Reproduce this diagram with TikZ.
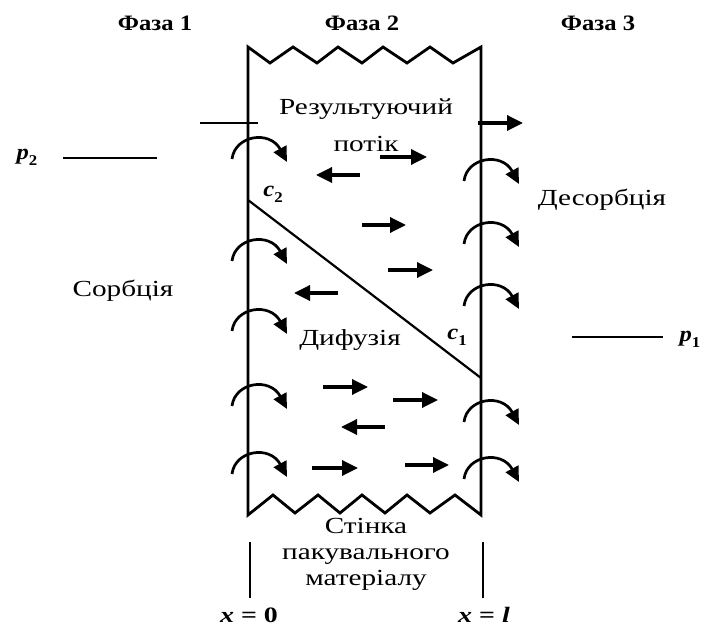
\documentclass[tikz,border=0pt]{standalone}
\usepackage{fontspec}
\setmainfont{Liberation Serif}
\usetikzlibrary{arrows.meta}
\tikzset{
  wall/.style={line width=2.8pt, line join=miter},
  thin/.style={line width=2.2pt},
  flow/.style={line width=3.4pt, -{Triangle[length=16pt,width=15pt]}},
  curl/.style={line width=2.7pt, -{Triangle[length=15pt,width=14pt]}},
  lbl/.style={font=\fontsize{23}{26}\selectfont, inner sep=0pt, anchor=base},
  phase/.style={font=\fontsize{22}{24}\selectfont\bfseries, inner sep=0pt, anchor=base},
  sym/.style={font=\fontsize{22}{24}\selectfont\bfseries, inner sep=0pt, anchor=base}
}
\newcommand\mywide[1]{\scalebox{1.27}[1]{#1}}
\newcommand\myphw[1]{\scalebox{1.12}[1]{#1}}
\newcommand\curlat[2]{\draw[curl] (#1-18,#2+19) .. controls (#1-15,#2-5) and (#1+20,#2-10) .. (#1+37,#2+22);}
\newcommand\mysubsc[1]{\raisebox{-0.25em}{\fontsize{15}{17}\selectfont #1}}
\begin{document}
\begin{tikzpicture}[x=1pt,y=-1pt]
\useasboundingbox (0,0) rectangle (710,628);
% walls and zigzags
\draw[wall] (248,515) -- (248,47) -- (270,63) -- (293,47) -- (317,63) -- (338,47) -- (362,63) -- (383,47) -- (407,63) -- (430,47) -- (453,63) -- (481,47) -- (481,515)
  -- (455,495) -- (430,513) -- (407,495) -- (385,513) -- (362,495) -- (340,513) -- (318,495) -- (295,513) -- (273,495) -- cycle;
% lower ticks
\coordinate (t0a) at (250,542); \coordinate (t0b) at (250,598);
\coordinate (tla) at (483,542); \coordinate (tlb) at (483,598);
\draw[wall] (t0a) -- (t0b);
\draw[wall] (tla) -- (tlb);
% concentration line
\coordinate (cA) at (248,200); \coordinate (cB) at (481,378);
\draw[thin] (cA) -- (cB);
% pressure lines
\coordinate (p2a) at (63,158); \coordinate (p2b) at (157,158);
\coordinate (p1a) at (572,337); \coordinate (p1b) at (663,337);
\draw[wall] (p2a) -- (p2b);
\draw[wall] (p1a) -- (p1b);
% net flux
\coordinate (nfa) at (200,123); \coordinate (nfb) at (258,123);
\draw[thin] (nfa) -- (nfb);
\coordinate (nra) at (478,123); \coordinate (nrb) at (523,123);
\draw[flow] (nra) -- (nrb);
% straight diffusion arrows
\draw[flow] (380,157) -- (427,157);
\draw[flow] (360,175) -- (316,175);
\draw[flow] (362,225) -- (406,225);
\draw[flow] (388,270) -- (433,270);
\draw[flow] (338,293) -- (294,293);
\draw[flow] (323,387) -- (368,387);
\draw[flow] (393,400) -- (438,400);
\draw[flow] (385,427) -- (341,427);
\draw[flow] (312,468) -- (358,468);
\draw[flow] (405,465) -- (449,465);
% curved arrows left
\curlat{250}{140}
\curlat{250}{242}
\curlat{250}{312}
\curlat{250}{387}
\curlat{250}{455}
% curved arrows right
\curlat{482}{162}
\curlat{482}{225}
\curlat{482}{287}
\curlat{482}{403}
\curlat{482}{460}
% texts
\node[phase] (f1) at (155,31) {\myphw{Фаза 1}};
\node[phase] (f2) at (362,31) {\myphw{Фаза 2}};
\node[phase] (f3) at (598,31) {\myphw{Фаза 3}};
\node[lbl] (res) at (366,115) {\mywide{Результуючий}};
\node[lbl] (pot) at (366,152) {\mywide{потік}};
\node[lbl] (sorb) at (123,297) {\mywide{Сорбція}};
\node[lbl] (desorb) at (602,206) {\mywide{Десорбція}};
\node[lbl] (dif) at (350,346) {\mywide{Дифузія}};
\node[lbl, anchor=north, align=center, font=\fontsize{23}{26}\selectfont] (wall) at (366,518) {\mywide{Стінка}\\\mywide{пакувального}\\\mywide{матеріалу}};
\node[sym] (c2) at (273,197) {\myphw{\textit{c}\mysubsc{2}}};
\node[sym] (c1) at (457,340) {\myphw{\textit{c}\mysubsc{1}}};
\node[sym] (p2) at (27,160) {\myphw{\textit{p}\mysubsc{2}}};
\node[sym] (p1) at (690,342) {\myphw{\textit{p}\mysubsc{1}}};
\node[sym] (x0) at (249,622) {\mywide{\textit{x} = 0}};
\node[sym] (xl) at (484,622) {\mywide{\textit{x} = \textit{l}}};
\end{tikzpicture}
\end{document}
